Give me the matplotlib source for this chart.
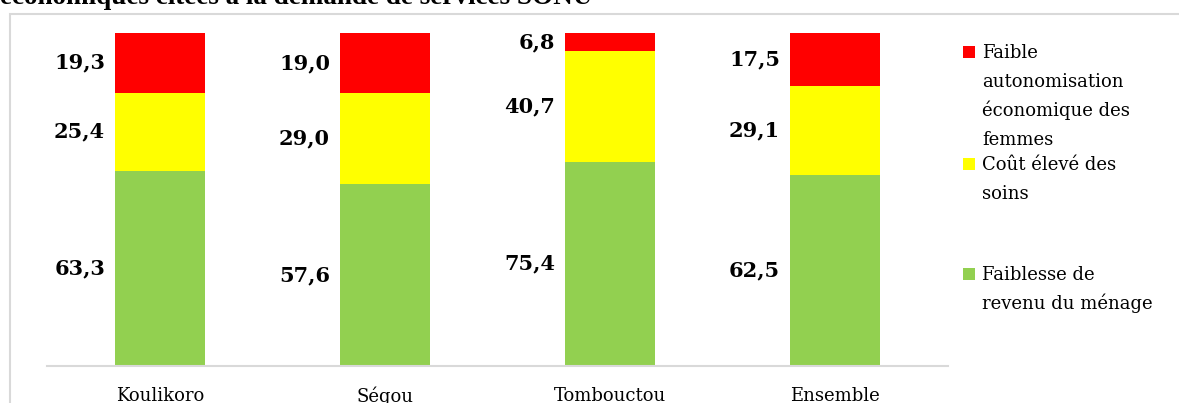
import matplotlib
matplotlib.use("Agg")
import matplotlib.pyplot as plt
from matplotlib.patches import Rectangle

# Data
regions = ["Koulikoro", "Ségou", "Tombouctou", "Ensemble"]
revenu_menage = [63.3, 57.6, 75.4, 62.5]      # Faiblesse de revenu du ménage
cout_soins = [25.4, 29.0, 40.7, 29.1]         # Coût élevé des soins
autonomisation = [19.3, 19.0, 6.8, 17.5]      # Faible autonomisation économique des femmes

series = [
    (revenu_menage, "#92D050", "Faiblesse de\nrevenu du ménage"),
    (cout_soins, "#FFFF00", "Coût élevé des\nsoins"),
    (autonomisation, "#FF0000", "Faible\nautonomisation\néconomique des\nfemmes"),
]

W, H = 1179, 403
fig = plt.figure(figsize=(W / 100, H / 100), dpi=100)
fig.patch.set_facecolor("white")

# outer chart frame
fig.patches.append(Rectangle((10 / W, -0.1), 1.2, 1 - 14 / H + 0.1,
                             transform=fig.transFigure, fill=False,
                             edgecolor="#d9d9d9", linewidth=1.5))

# title (top part runs off the image)
fig.text(0.0, 1 - 4 / H, "économiques citées à la demande de services SONU",
         ha="left", va="baseline", fontsize=19.5, fontweight="bold",
         family="Liberation Serif", color="black")

ax_left, ax_right = 47.5, 947.5
ax_top, ax_bottom = 33, 366
ax = fig.add_axes([ax_left / W, 1 - ax_bottom / H, (ax_right - ax_left) / W,
                   (ax_bottom - ax_top) / H])

totals = [sum(v) for v in zip(*[s[0] for s in series])]
x = list(range(len(regions)))
width = 0.4
bottoms = [0.0] * len(regions)
for vals, color, label in series:
    heights = [v / t * 100 for v, t in zip(vals, totals)]
    ax.bar(x, heights, width, bottom=bottoms, color=color, label=label)
    for i, (v, h, b) in enumerate(zip(vals, heights, bottoms)):
        ax.annotate(f"{v:.1f}".replace(".", ","), xy=(i - width / 2, b + h / 2),
                    xytext=(-10, 0), textcoords="offset pixels",
                    ha="right", va="center", fontsize=15, fontweight="bold",
                    family="DejaVu Serif", color="black")
    bottoms = [b + h for b, h in zip(bottoms, heights)]

ax.set_xlim(-0.5, len(regions) - 0.5)
ax.set_ylim(0, 100)
for side in ("top", "left", "right"):
    ax.spines[side].set_visible(False)
ax.spines["bottom"].set_color("#d9d9d9")
ax.spines["bottom"].set_linewidth(1.5)
ax.set_yticks([])
ax.set_xticks(x)
ax.set_xticklabels(regions, family="DejaVu Serif", fontsize=13)
ax.tick_params(axis="x", length=0, pad=15)

# legend, drawn entry by entry
legend_entries = [
    (series[2], 58),
    (series[1], 170),
    (series[0], 280),
]
for (vals, color, label), base in legend_entries:
    fig.patches.append(Rectangle((963 / W, 1 - (base) / H), 12 / W, 12 / H,
                                 transform=fig.transFigure, facecolor=color,
                                 edgecolor="none"))
    for k, line in enumerate(label.split("\n")):
        fig.text(982 / W, 1 - (base + 29 * k) / H, line, ha="left",
                 va="baseline", fontsize=13, family="DejaVu Serif",
                 color="black")

fig.savefig("out.png", dpi=100, facecolor="white")
